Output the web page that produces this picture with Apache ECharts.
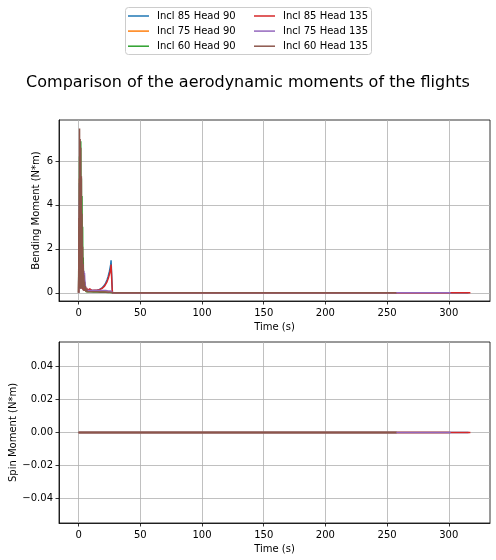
<!DOCTYPE html>
<html>
<head>
<meta charset="utf-8">
<script src="https://cdn.jsdelivr.net/npm/echarts@6/dist/echarts.min.js"></script>
<style>
html,body{margin:0;padding:0;background:#fff;}
#chart{width:496px;height:560px;}
</style>
</head>
<body>
<div id="chart"></div>
<script>
// ---- data ----
const seriesNames = ['Incl 85 Head 90','Incl 75 Head 90','Incl 60 Head 90','Incl 85 Head 135','Incl 75 Head 135','Incl 60 Head 135'];
const seriesColors = ['#1f77b4','#ff7f0e','#2ca02c','#d62728','#9467bd','#8c564b'];
// common sample times of the powered / early phase (s)
const timeEarly = [0,0.25,0.5,0.75,1,1.25,1.5,1.75,2,2.25,2.5,2.75,3,3.25,3.5,3.75,4,4.25,4.5,4.75,5,5.5,6,6.5,7,8,9,10,11,12,13,14,15,16,17,18,19,20,21,22,23,24,25,26,26.3,27,27.4,28,30];
// end time of each flight (s)
const flightEnd = [316, 300, 258, 317.5, 301.5, 257.5];
// bending moment (N*m)
const bendIncl85Head90 = [0,2.0,0.2,5.0,0.2,4.6,0.2,3.8,0.2,2.8,0.2,1.9,0.2,1.2,0.15,0.7,0.1,0.4,0.1,0.3,0.1,0.15,0.1,0.2,0.1,0.1,0.15,0.22,0.1,0.12,0.1,0.1,0.12,0.13,0.15,0.18,0.22,0.28,0.35,0.45,0.58,0.75,0.98,1.28,1.48,0.5,0,0,0];
const bendIncl75Head90 = [0,1.6,0.2,3.8,0.2,3.4,0.3,2.9,0.3,2.2,0.3,1.6,0.4,1.1,0.4,0.8,0.4,0.6,0.3,0.4,0.2,0.15,0.08,0.12,0.06,0.08,0.1,0.08,0.1,0.08,0.08,0.07,0.07,0.06,0.06,0.05,0.05,0.05,0.05,0.04,0.04,0.04,0.03,0.03,0.03,0.02,0,0,0];
const bendIncl60Head90 = [0,3.0,0.3,6.2,0.3,6.0,0.3,6.9,0.3,5.2,0.3,4.4,0.3,3.0,0.2,1.6,0.15,0.9,0.1,0.5,0.1,0.2,0.05,0.1,0.05,0.06,0.05,0.05,0.04,0.04,0.04,0.03,0.03,0.03,0.03,0.02,0.02,0.02,0.02,0.02,0.02,0.01,0.01,0.01,0.01,0.01,0,0,0];
const bendIncl85Head135 = [0,2.2,0.2,5.2,0.2,4.8,0.2,3.9,0.2,2.9,0.2,2.0,0.2,1.3,0.15,0.8,0.1,0.45,0.1,0.3,0.1,0.18,0.1,0.22,0.1,0.12,0.18,0.26,0.1,0.14,0.12,0.1,0.12,0.13,0.14,0.16,0.2,0.25,0.3,0.38,0.5,0.65,0.85,1.1,1.28,0.4,0,0,0];
const bendIncl75Head135 = [0,1.8,0.2,4.2,0.2,3.8,0.3,3.2,0.3,2.5,0.4,1.8,0.5,1.3,0.6,1.0,0.7,1.0,0.8,0.9,0.6,0.3,0.1,0.15,0.08,0.1,0.12,0.1,0.12,0.1,0.12,0.1,0.12,0.1,0.1,0.1,0.1,0.1,0.1,0.1,0.1,0.08,0.08,0.08,0.05,0.02,0,0,0];
const bendIncl60Head135 = [0,3.4,0.3,7.48,0.2,7.0,0.3,6.6,0.2,5.3,0.3,3.6,0.2,2.1,0.2,1.3,0.15,0.8,0.1,0.5,0.1,0.3,0.05,0.15,0.05,0.08,0.05,0.1,0.05,0.08,0.05,0.06,0.05,0.05,0.04,0.04,0.03,0.03,0.03,0.02,0.02,0.02,0.02,0.02,0.02,0.01,0,0,0];
const bendingMoment = [bendIncl85Head90,bendIncl75Head90,bendIncl60Head90,bendIncl85Head135,bendIncl75Head135,bendIncl60Head135];
// spin moment (N*m): zero over the whole flight (start, end of flight)
const spinTimes = [0, 1];          // last entry is replaced by the flight's end time
const spinMoment = [0, 0];
// axis ticks
const timeTicks = [0,50,100,150,200,250,300];
const bendTicks = [0,2,4,6];
const spinTicks = [-0.04,-0.02,0,0.02,0.04];

// ---- chart ----
const chart = echarts.init(document.getElementById('chart'), null, {renderer:'canvas'});
const FONT = 'DejaVu Sans';
const gridLine = {show:true, lineStyle:{color:'#b0b0b0', width:0.8}};
function xAxis(gridIndex, nameGap){
  return {
    type:'value', gridIndex, min:-15.9, max:333.4,
    name:'Time (s)', nameLocation:'middle', nameGap, nameMoveOverlap:false,
    nameTextStyle:{color:'#000', fontSize:10, fontFamily:FONT},
    axisLine:{show:true, onZero:false, lineStyle:{color:'#000', width:0.8}},
    axisTick:{show:true, length:3.5, customValues:timeTicks, lineStyle:{color:'#000', width:0.8}},
    axisLabel:{customValues:timeTicks, color:'#000', fontSize:10, fontFamily:FONT, margin:7},
    splitLine:gridLine
  };
}
function yAxis(gridIndex, min, max, name, nameGap, ticks, formatter){
  return {
    type:'value', gridIndex, min, max,
    name, nameLocation:'middle', nameGap, nameMoveOverlap:false,
    nameTextStyle:{color:'#000', fontSize:10, fontFamily:FONT},
    axisLine:{show:true, onZero:false, lineStyle:{color:'#000', width:0.8}},
    axisTick:{show:true, length:3.5, customValues:ticks, lineStyle:{color:'#000', width:0.8}},
    axisLabel:{customValues:ticks, color:'#000', fontSize:10, fontFamily:FONT, margin:6, formatter},
    splitLine:gridLine
  };
}
const legendText = {fontSize:10, fontFamily:FONT, color:'#000', lineHeight:12, padding:[0,0,0,3]};
const option = {
  backgroundColor:'#fff',
  animation:false,
  title:{text:'Comparison of the aerodynamic moments of the flights', left:'center', top:70,
    textStyle:{color:'#000', fontSize:16, fontWeight:'normal', fontFamily:FONT}},
  legend:[
    {left:128, top:10, padding:0, orient:'vertical', itemGap:3.1, itemWidth:21, itemHeight:1.5, icon:'rect',
     data:seriesNames.slice(0,3), textStyle:legendText},
    {left:254, top:10, padding:0, orient:'vertical', itemGap:3.1, itemWidth:21, itemHeight:1.5, icon:'rect',
     data:seriesNames.slice(3), textStyle:legendText}
  ],
  graphic:[{type:'rect', left:125, top:7, shape:{width:246, height:47, r:3},
    style:{fill:'rgba(255,255,255,0.8)', stroke:'#cccccc', lineWidth:1}, z:-1}],
  grid:[
    {left:59, right:6, top:120, height:181, show:true, borderColor:'#000', borderWidth:0.8,
     backgroundColor:'transparent', outerBoundsMode:'none', containLabel:false},
    {left:59, right:6, top:342, height:181, show:true, borderColor:'#000', borderWidth:0.8,
     backgroundColor:'transparent', outerBoundsMode:'none', containLabel:false}
  ],
  xAxis:[xAxis(0, 21), xAxis(1, 21)],
  yAxis:[
    yAxis(0, -0.3745, 7.8645, 'Bending Moment (N*m)', 18, bendTicks),
    yAxis(1, -0.055, 0.055, 'Spin Moment (N*m)', 41, spinTicks,
      v => (v < -1e-9 ? '\u2212' : '') + Math.abs(v).toFixed(2))
  ],
  series:[]
};
seriesNames.forEach((name, i) => {
  const top = timeEarly.map((t, k) => [t, bendingMoment[i][k]]).concat([[flightEnd[i], 0]]);
  const bottom = spinTimes.map((t, k) => [k === spinTimes.length - 1 ? flightEnd[i] : t, spinMoment[k]]);
  option.series.push({name, type:'line', xAxisIndex:0, yAxisIndex:0, data:top, showSymbol:false, symbol:'none',
    color:seriesColors[i], lineStyle:{width:1.5, color:seriesColors[i]}, z:2+i});
  option.series.push({name, type:'line', xAxisIndex:1, yAxisIndex:1, data:bottom, showSymbol:false, symbol:'none',
    color:seriesColors[i], lineStyle:{width:1.5, color:seriesColors[i]}, z:2+i});
});
chart.setOption(option);
</script>
</body>
</html>
